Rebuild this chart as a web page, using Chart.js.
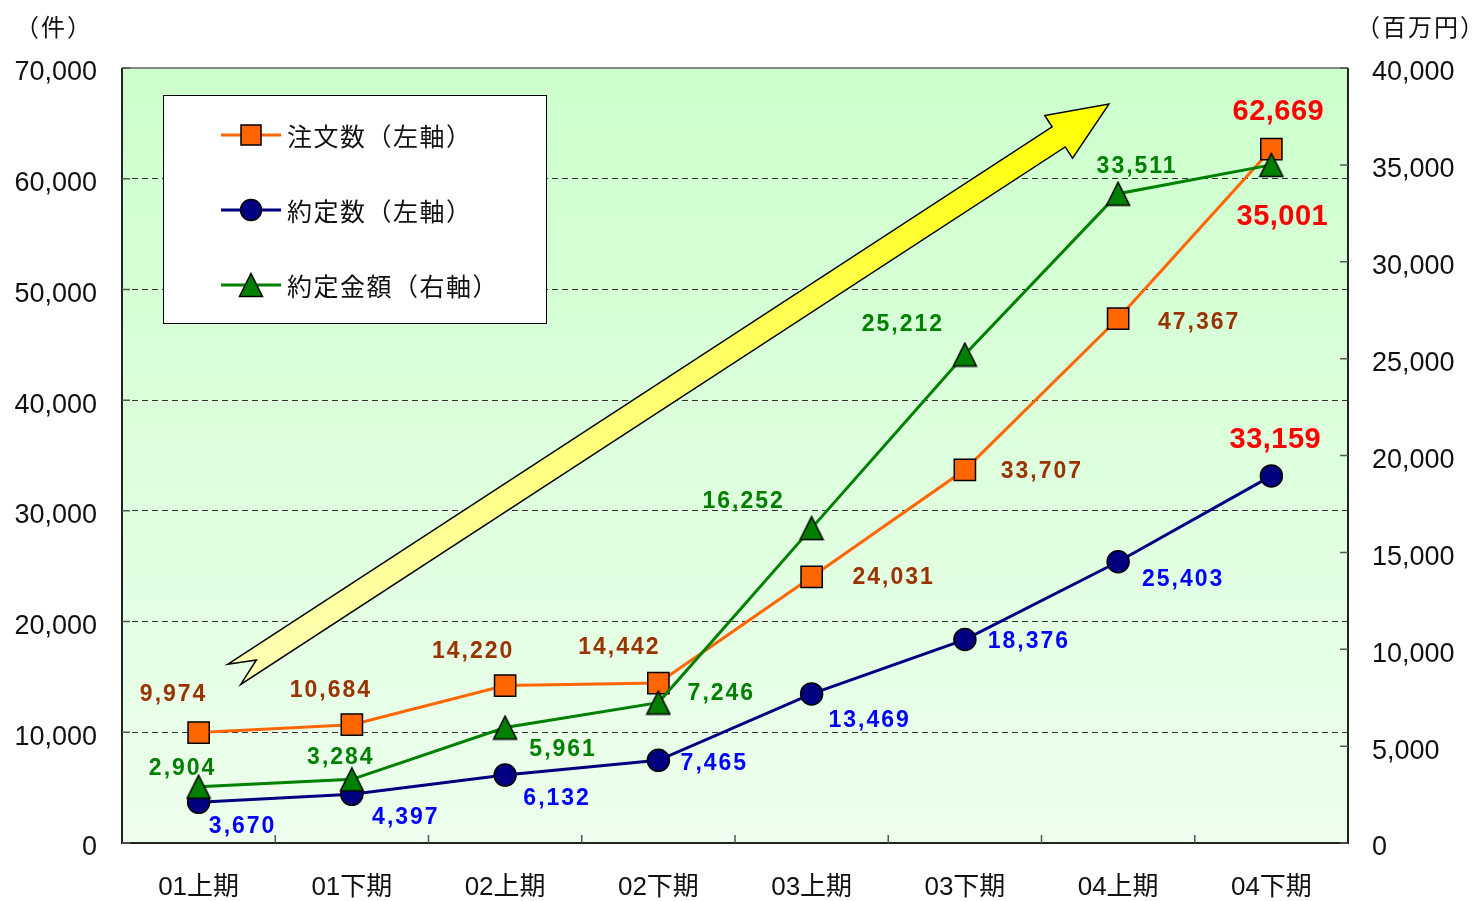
<!DOCTYPE html>
<html>
<head>
<meta charset="utf-8">
<script src="https://cdn.jsdelivr.net/npm/chart.js@4.4.0/dist/chart.umd.min.js"></script>
<style>
  html, body { margin: 0; padding: 0; background: #fff; }
</style>
</head>
<body>
<canvas id="chart" width="1477" height="901"></canvas>
<script>
// categories (half-years) and series
const categories = ['01上期', '01下期', '02上期', '02下期', '03上期', '03下期', '04上期', '04下期'];
const orderCount = [9974, 10684, 14220, 14442, 24031, 33707, 47367, 62669];   // 注文数 (左軸)
const tradeCount = [3670, 4397, 6132, 7465, 13469, 18376, 25403, 33159];      // 約定数 (左軸)
const tradeAmount = [2904, 3284, 5961, 7246, 16252, 25212, 33511, 35001];     // 約定金額 (右軸)
const leftMax = 70000, leftStep = 10000;
const rightMax = 40000, rightStep = 5000;

// label offsets from each point, px
const orderLabelPos = [[-25, -38], [-21, -34], [-32, -34], [-39, -35], [82, 1], [77, 2], [81, 4], [7, -37]];
const tradeLabelPos = [[44, 24], [54, 23], [52, 24], [56, 3], [58, 27], [64, 2], [65, 18], [4, -36]];
const amountLabelPos = [[-16, -18], [-11, -22], [58, 22], [63, -9], [-68, -26], [-62, -30], [19, -27], [11, 52]];

// the big trend arrow, in (category index, left-axis value)
const arrowFrom = [0.232, 15230];
const arrowTo = [5.94, 66740];

const LATIN = "'Liberation Sans', 'Noto Sans CJK JP', sans-serif";
const CJK = "'Noto Sans CJK JP', 'Liberation Sans', sans-serif";

function triangleImg() {
  const c = document.createElement('canvas');
  c.width = 26; c.height = 26;
  const g = c.getContext('2d');
  g.beginPath();
  g.moveTo(13, 1.5); g.lineTo(24.5, 24.5); g.lineTo(1.5, 24.5); g.closePath();
  g.fillStyle = '#008000'; g.fill();
  g.lineWidth = 1.5; g.strokeStyle = '#000'; g.stroke();
  return c;
}
const tri = triangleImg();

function drawArrow(ctx, tx, ty, hx, hy) {
  const L = Math.hypot(hx - tx, hy - ty);
  const ux = (hx - tx) / L, uy = (hy - ty) / L;
  const nx = -uy, ny = ux;
  const P = (a, p) => [tx + a * ux + p * nx, ty + a * uy + p * ny];
  const pts = [P(0, -12), P(L - 60, -12), P(L - 60, -25.5), P(L, 0),
               P(L - 60, 25.5), P(L - 60, 12), P(0, 12), P(26.5, 0)];
  ctx.save();
  ctx.beginPath();
  pts.forEach((p, i) => i ? ctx.lineTo(p[0], p[1]) : ctx.moveTo(p[0], p[1]));
  ctx.closePath();
  const g = ctx.createLinearGradient(tx, ty, hx, hy);
  g.addColorStop(0, '#ffffb4');
  g.addColorStop(0.5, '#ffff70');
  g.addColorStop(1, '#ffff00');
  ctx.fillStyle = g;
  ctx.fill();
  ctx.lineWidth = 1.5;
  ctx.strokeStyle = '#000';
  ctx.stroke();
  ctx.restore();
}

const deco = {
  id: 'deco',
  beforeDraw(chart) {
    const { ctx, chartArea: a } = chart;
    const g = ctx.createLinearGradient(0, a.top, 0, a.bottom);
    g.addColorStop(0, '#ccffcc');
    g.addColorStop(1, '#edfeed');
    ctx.save();
    ctx.fillStyle = g;
    ctx.fillRect(a.left, a.top, a.right - a.left, a.bottom - a.top);
    ctx.restore();
  },
  beforeDatasetsDraw(chart) {
    const { ctx, chartArea: a, scales } = chart;
    const x = scales.x, y = scales.y, y2 = scales.y2;

    // frame
    ctx.save();
    ctx.lineWidth = 2;
    ctx.strokeStyle = '#888';
    ctx.beginPath(); ctx.moveTo(a.left, a.top); ctx.lineTo(a.right, a.top); ctx.stroke();
    ctx.strokeStyle = '#222';
    ctx.beginPath();
    ctx.moveTo(a.left, a.top); ctx.lineTo(a.left, a.bottom); ctx.lineTo(a.right, a.bottom); ctx.lineTo(a.right, a.top);
    ctx.stroke();
    // inward tick marks
    ctx.lineWidth = 1.5;
    ctx.strokeStyle = '#555';
    ctx.beginPath();
    for (let v = 0; v <= leftMax; v += leftStep) {
      const py = y.getPixelForValue(v);
      ctx.moveTo(a.left, py); ctx.lineTo(a.left + 8, py);
    }
    for (let v = 0; v <= rightMax; v += rightStep) {
      const py = y2.getPixelForValue(v);
      ctx.moveTo(a.right, py); ctx.lineTo(a.right - 8, py);
    }
    for (let i = 1; i < categories.length; i++) {
      const px = x.getPixelForValue(i - 0.5);
      ctx.moveTo(px, a.bottom); ctx.lineTo(px, a.bottom - 8);
    }
    ctx.stroke();
    ctx.restore();

    // trend arrow
    drawArrow(ctx,
      x.getPixelForValue(arrowFrom[0]), y.getPixelForValue(arrowFrom[1]),
      x.getPixelForValue(arrowTo[0]), y.getPixelForValue(arrowTo[1]));

    // legend box
    ctx.save();
    ctx.fillStyle = '#fff';
    ctx.fillRect(163, 95, 383, 228);
    ctx.lineWidth = 1;
    ctx.strokeStyle = '#000';
    ctx.strokeRect(163.5, 95.5, 383, 228);
    const items = chart.data.datasets.map((d, i) => ({ d, i })).sort((p, q) => p.d.legendIndex - q.d.legendIndex);
    items.forEach(({ d }, k) => {
      const ly = 135 + k * 75;
      ctx.lineWidth = 3;
      ctx.strokeStyle = d.borderColor;
      ctx.beginPath(); ctx.moveTo(221, ly); ctx.lineTo(281, ly); ctx.stroke();
      ctx.lineWidth = 1.5;
      ctx.strokeStyle = '#000';
      if (d.pointStyle === 'rect') {
        ctx.fillStyle = d.pointBackgroundColor;
        ctx.fillRect(241, ly - 10, 20, 20);
        ctx.strokeRect(241, ly - 10, 20, 20);
      } else if (d.pointStyle === 'circle') {
        ctx.fillStyle = d.pointBackgroundColor;
        ctx.beginPath(); ctx.arc(251, ly, 10.5, 0, Math.PI * 2); ctx.fill(); ctx.stroke();
      } else {
        ctx.drawImage(tri, 251 - 13, ly - 13);
      }
      ctx.fillStyle = '#111';
      ctx.font = '25px ' + CJK;
      ctx.letterSpacing = '1.5px';
      ctx.textBaseline = 'middle';
      ctx.textAlign = 'left';
      ctx.fillText(d.label, 287, ly + 1);
      ctx.letterSpacing = '0px';
    });
    ctx.restore();
  },
  afterDatasetsDraw(chart) {
    const { ctx } = chart;
    ctx.save();
    ctx.textAlign = 'center';
    ctx.textBaseline = 'middle';
    chart.data.datasets.forEach((d, di) => {
      const meta = chart.getDatasetMeta(di);
      meta.data.forEach((pt, i) => {
        const last = i === d.data.length - 1;
        const off = d.labelPos[i];
        ctx.font = last ? 'bold 29px ' + LATIN : 'bold 23px ' + LATIN;
        ctx.letterSpacing = last ? '0.5px' : '2px';
        ctx.fillStyle = last ? '#ff0000' : d.labelColor;
        ctx.fillText(d.data[i].toLocaleString('en-US'), pt.x + off[0], pt.y + off[1]);
      });
    });
    // axis unit captions
    ctx.fillStyle = '#111';
    ctx.font = '24px ' + CJK;
    ctx.letterSpacing = '2px';
    ctx.fillText('（件）', 54, 27);
    ctx.fillText('（百万円）', 1421, 27);
    ctx.restore();
  }
};

new Chart(document.getElementById('chart'), {
  type: 'line',
  data: {
    labels: categories,
    datasets: [
      {
        label: '約定金額（右軸）',
        data: tradeAmount,
        yAxisID: 'y2',
        borderColor: '#008000',
        backgroundColor: '#008000',
        pointStyle: tri,
        pointRadius: 13,
        order: 0,
        legendIndex: 2,
        labelColor: '#008000',
        labelPos: amountLabelPos,
      },
      {
        label: '注文数（左軸）',
        data: orderCount,
        yAxisID: 'y',
        borderColor: '#ff6600',
        backgroundColor: '#ff6600',
        pointStyle: 'rect',
        pointRadius: 15,
        pointBackgroundColor: '#ff6600',
        order: 1,
        legendIndex: 0,
        labelColor: '#993300',
        labelPos: orderLabelPos,
      },
      {
        label: '約定数（左軸）',
        data: tradeCount,
        yAxisID: 'y',
        borderColor: '#000080',
        backgroundColor: '#000080',
        pointStyle: 'circle',
        pointRadius: 11,
        pointBackgroundColor: '#000080',
        order: 2,
        legendIndex: 1,
        labelColor: '#0000ff',
        labelPos: tradeLabelPos,
      },
    ],
  },
  options: {
    responsive: false,
    animation: false,
    devicePixelRatio: 1,
    layout: { padding: { top: 68, left: 0, right: 0, bottom: 0 } },
    elements: {
      line: { borderWidth: 3, tension: 0 },
      point: { borderColor: '#000', borderWidth: 1.5 },
    },
    datasets: { line: { clip: false, pointBorderColor: '#000', pointBorderWidth: 1.5 } },
    plugins: { legend: { display: false }, tooltip: { enabled: false } },
    scales: {
      x: {
        type: 'category',
        offset: true,
        grid: { display: false, drawTicks: false },
        border: { display: false },
        ticks: { color: '#111', font: { size: 26, family: LATIN }, padding: 29, maxRotation: 0, autoSkip: false },
        afterFit(s) { s.height = 58; },
      },
      y: {
        position: 'left',
        min: 0,
        max: leftMax,
        ticks: {
          stepSize: leftStep,
          color: '#111',
          font: { size: 27, family: LATIN },
          padding: 25,
          labelOffset: 5,
          callback: v => v.toLocaleString('en-US'),
        },
        grid: {
          drawTicks: false,
          lineWidth: 1,
          color: c => (c.tick.value === 0 || c.tick.value === leftMax) ? 'rgba(0,0,0,0)' : '#333',
        },
        border: { display: false, dash: [6, 4] },
        afterFit(s) { s.width = 122; },
      },
      y2: {
        position: 'right',
        min: 0,
        max: rightMax,
        ticks: {
          stepSize: rightStep,
          color: '#111',
          font: { size: 27, family: LATIN },
          padding: 24,
          labelOffset: 5,
          callback: v => v.toLocaleString('en-US'),
        },
        grid: { display: false, drawTicks: false },
        border: { display: false },
        afterFit(s) { s.width = 129; },
      },
    },
  },
  plugins: [deco],
});
</script>
</body>
</html>
